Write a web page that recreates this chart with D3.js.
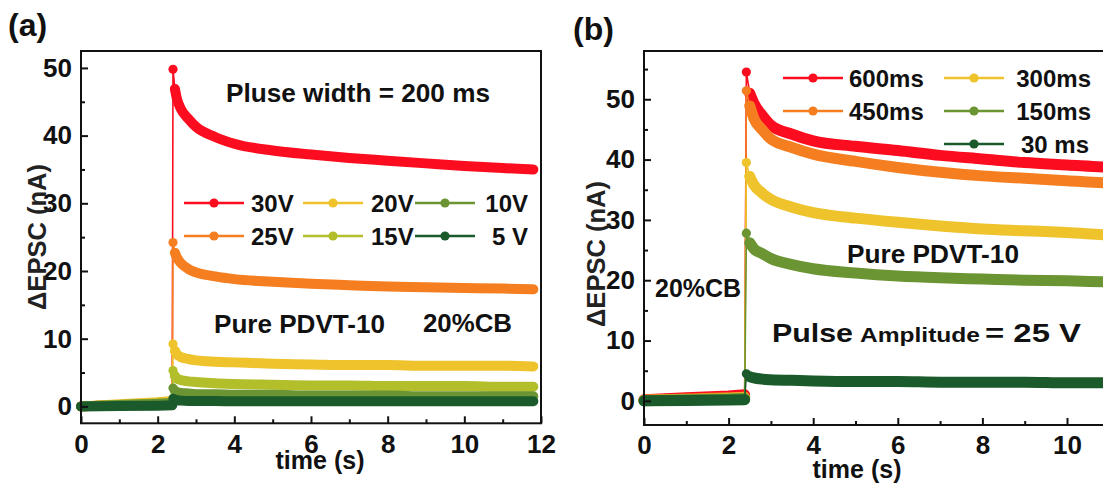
<!DOCTYPE html>
<html lang="en">
<head>
<meta charset="utf-8">
<title>EPSC pulses</title>
<script src="https://cdnjs.cloudflare.com/ajax/libs/d3/7.8.5/d3.min.js"></script>
<style>
  body { margin: 0; background: #fff; }
  text { font-family: "Liberation Sans", Arial, sans-serif; }
</style>
</head>
<body>
<script>
// ---- panel (a): amplitude series, pulse width 200 ms ----
var timeA = [0, 1, 2, 2.38, 2.4, 2.45, 2.5, 2.6, 2.8, 3, 3.5, 4, 5, 6, 7, 8, 9, 10, 11, 11.8];
var a30V = [0, 0.2, 0.4, 0.5, 49.8, 46.9, 45.5, 44, 42.5, 41.3, 39.8, 38.8, 37.8, 37.2, 36.7, 36.3, 35.9, 35.5, 35.2, 35.0];
var a25V = [0, 0.2, 0.4, 0.5, 24.2, 22.7, 22, 21.2, 20.3, 19.8, 19.2, 18.8, 18.4, 18.1, 17.9, 17.7, 17.6, 17.5, 17.4, 17.3];
var a20V = [0, 0.3, 0.6, 0.8, 9.2, 8.2, 7.7, 7.3, 7.0, 6.8, 6.6, 6.5, 6.3, 6.2, 6.1, 6.1, 6.0, 6.0, 6.0, 5.9];
var a15V = [0, 0.2, 0.4, 0.5, 5.3, 4.5, 4.1, 3.9, 3.7, 3.6, 3.4, 3.3, 3.2, 3.1, 3.1, 3.0, 3.0, 3.0, 2.9, 2.9];
var a10V = [0, 0.2, 0.4, 0.5, 2.7, 2.3, 2.1, 2.0, 1.9, 1.8, 1.8, 1.7, 1.7, 1.6, 1.6, 1.6, 1.5, 1.5, 1.5, 1.5];
var a5V = [0, 0.05, 0.1, 0.15, 1.2, 1.0, 0.9, 0.85, 0.8, 0.8, 0.8, 0.75, 0.75, 0.75, 0.75, 0.75, 0.75, 0.75, 0.75, 0.75];
var labelsA = ["30V", "25V", "20V", "15V", "10V", "5 V"];

// ---- panel (b): pulse width series, amplitude 25 V ----
var timeB = [0, 1, 2, 2.38, 2.42, 2.5, 2.6, 2.8, 3, 3.5, 4, 5, 6, 7, 8, 9, 10, 11, 11.8];
var b600 = [0.2, 0.5, 0.8, 1.0, 54.5, 51, 49.3, 47.3, 45.7, 44.2, 43.1, 42.2, 41.5, 40.7, 40.1, 39.5, 39.1, 38.7, 38.5];
var b450 = [0.1, 0.3, 0.5, 0.6, 51.4, 48.9, 46.8, 44.9, 43.4, 42, 40.9, 39.7, 38.7, 37.9, 37.3, 36.9, 36.5, 36.1, 35.9];
var b300 = [0.1, 0.2, 0.4, 0.5, 39.5, 37.2, 35.8, 34.4, 33.4, 32.1, 31.2, 30.3, 29.6, 29.0, 28.5, 28.2, 27.9, 27.5, 27.3];
var b150 = [0, 0.2, 0.3, 0.4, 27.8, 26.2, 25.2, 24.4, 23.6, 22.6, 21.9, 21.2, 20.7, 20.4, 20.2, 20.0, 19.9, 19.7, 19.6];
var b30 = [0, 0.05, 0.15, 0.2, 4.5, 4.0, 3.8, 3.6, 3.5, 3.4, 3.3, 3.2, 3.2, 3.1, 3.1, 3.1, 3.0, 3.0, 3.0];
var labelsB = ["600ms", "450ms", "300ms", "150ms", "30 ms"];

var xTicks = [0, 2, 4, 6, 8, 10, 12];
var xMinor = [1, 3, 5, 7, 9, 11];
var yTicks = [0, 10, 20, 30, 40, 50];
var yMinorA = [5, 15, 25, 35, 45];
var yMinorB = [5, 15, 25, 35, 45, 55];

var colorsA = ["#fb0d1f", "#f47e20", "#eec32c", "#b2bf2b", "#6b9433", "#1b5a2b"];
var colorsB = ["#fb0d1f", "#f47e20", "#eec32c", "#6b9433", "#1b5a2b"];

var W = 1103, H = 485;
var svg = d3.select("body").append("svg")
    .attr("width", W)
    .attr("height", H);
svg.append("rect").attr("width", W).attr("height", H).attr("fill", "#fff");

var PEAK = 4; // index of the pulse maximum in each series

function drawPanel(opt) {
    var x = d3.scaleLinear().domain([0, 12]).range(opt.xr);
    var y = d3.scaleLinear().domain(opt.yd).range(opt.yr);
    var g = svg.append("g");
    var onScreen = function(t) { return x(t) < W - 10; };

    // series, first one at the bottom
    opt.series.forEach(function(vals, k) {
        var pts = opt.time.map(function(t, i) { return [t, vals[i]]; });
        var col = opt.colors[k];
        var line = d3.line().x(function(d) { return x(d[0]); }).y(function(d) { return y(d[1]); });
        var smooth = d3.line().curve(d3.curveMonotoneX)
            .x(function(d) { return x(d[0]); }).y(function(d) { return y(d[1]); });

        // thin jump at the pulse
        g.append("path").attr("d", line(pts.slice(PEAK - 1, PEAK + 3)))
            .attr("fill", "none").attr("stroke", col).attr("stroke-width", 1.6);
        // thick baseline before the pulse
        g.append("path").attr("d", line(pts.slice(0, PEAK)))
            .attr("fill", "none").attr("stroke", col).attr("stroke-width", opt.band)
            .attr("stroke-linecap", "round");
        // thick decay after the pulse
        g.append("path").attr("d", smooth(pts.slice(PEAK + 1)))
            .attr("fill", "none").attr("stroke", col).attr("stroke-width", opt.band)
            .attr("stroke-linecap", "round").attr("stroke-linejoin", "round");
        g.selectAll(null).data(pts.slice(PEAK, PEAK + 2)).enter().append("circle")
            .attr("cx", function(d) { return x(d[0]); })
            .attr("cy", function(d) { return y(d[1]); })
            .attr("r", 4.6).attr("fill", col);
    });

    // frame
    g.append("rect")
        .attr("x", opt.xr[0]).attr("y", opt.yr[1])
        .attr("width", opt.xr[1] - opt.xr[0]).attr("height", opt.yr[0] - opt.yr[1])
        .attr("fill", "none").attr("stroke", "#111").attr("stroke-width", 2);

    // axes, ticks pointing inward
    g.append("g").attr("transform", "translate(0," + opt.yr[0] + ")")
        .call(d3.axisBottom(x).tickValues(xTicks.filter(onScreen)).tickSize(-7).tickPadding(11).tickFormat(d3.format("d")));
    g.append("g").attr("transform", "translate(0," + opt.yr[0] + ")")
        .call(d3.axisBottom(x).tickValues(xMinor.filter(onScreen)).tickSize(-4).tickFormat(""));
    g.append("g").attr("transform", "translate(" + opt.xr[0] + ",0)")
        .call(d3.axisLeft(y).tickValues(yTicks).tickSize(-7).tickPadding(9).tickFormat(d3.format("d")));
    g.append("g").attr("transform", "translate(" + opt.xr[0] + ",0)")
        .call(d3.axisLeft(y).tickValues(opt.yMinor).tickSize(-4).tickFormat(""));
    g.selectAll(".domain").remove();
    g.selectAll(".tick line").attr("stroke", "#111").attr("stroke-width", 2);
    g.selectAll(".tick text").attr("font-size", 26).attr("font-weight", "bold")
        .attr("fill", "#111").style("font-family", "'Liberation Sans', Arial, sans-serif");

    // axis titles
    g.append("text").attr("x", opt.xTitle[0]).attr("y", opt.xTitle[1])
        .attr("text-anchor", "middle").attr("font-size", 25).attr("font-weight", "bold")
        .attr("fill", "#111").text("time (s)");
    g.append("text")
        .attr("transform", "translate(" + opt.yTitle[0] + "," + opt.yTitle[1] + ") rotate(-90)")
        .attr("text-anchor", "middle").attr("dy", "0.36em").attr("font-size", 25)
        .attr("font-weight", "bold").attr("textLength", 146).attr("lengthAdjust", "spacingAndGlyphs")
        .attr("fill", "#222").text("\u0394EPSC (nA)");

    // panel letter
    g.append("text").attr("x", opt.letter[0]).attr("y", opt.letter[1])
        .attr("font-size", 32).attr("font-weight", "bold").attr("fill", "#111").text(opt.letterText);

    // legend
    opt.legend.forEach(function(L, k) {
        var col = opt.colors[k];
        var lg = g.append("g");
        lg.append("line").attr("x1", L.x).attr("x2", L.x + 60).attr("y1", L.y).attr("y2", L.y)
            .attr("stroke", col).attr("stroke-width", 2.5);
        lg.append("circle").attr("cx", L.x + 30).attr("cy", L.y).attr("r", 4.6).attr("fill", col);
        lg.append("text").attr("x", L.tx).attr("y", L.y).attr("dy", "0.36em")
            .attr("text-anchor", L.anchor).attr("font-size", 24).attr("font-weight", "bold")
            .attr("fill", "#111").text(opt.labels[k]);
    });

    return g;
}

var gA = drawPanel({
    time: timeA, series: [a30V, a25V, a20V, a15V, a10V, a5V], colors: colorsA, labels: labelsA,
    xr: [81, 541], yr: [423.3, 51], yd: [-2.5, 52.5], band: 10,
    yMinor: yMinorA,
    xTitle: [320, 469], yTitle: [37, 237], letter: [8, 36], letterText: "(a)",
    legend: [
        { x: 184, y: 203, tx: 251, anchor: "start" },
        { x: 184, y: 236, tx: 251, anchor: "start" },
        { x: 303, y: 203, tx: 371, anchor: "start" },
        { x: 303, y: 236, tx: 371, anchor: "start" },
        { x: 415, y: 203, tx: 528, anchor: "end" },
        { x: 415, y: 236, tx: 528, anchor: "end" }
    ]
});

var gB = drawPanel({
    time: timeB, series: [b600, b450, b300, b150, b30], colors: colorsB, labels: labelsB,
    xr: [644, 1151.6], yr: [425, 51], yd: [-4, 58], band: 11,
    yMinor: yMinorB,
    xTitle: [857, 478], yTitle: [596, 254], letter: [573, 40], letterText: "(b)",
    legend: [
        { x: 783, y: 78, tx: 849, anchor: "start" },
        { x: 783, y: 111, tx: 849, anchor: "start" },
        { x: 944, y: 78, tx: 1091, anchor: "end" },
        { x: 944, y: 111, tx: 1091, anchor: "end" },
        { x: 944, y: 144, tx: 1089, anchor: "end" }
    ]
});

// annotations
function note(g, x, y, size, str, len) {
    var t = g.append("text").attr("x", x).attr("y", y).attr("font-size", size)
        .attr("font-weight", "bold").attr("fill", "#111").text(str);
    if (len) t.attr("textLength", len).attr("lengthAdjust", "spacingAndGlyphs");
    return t;
}
note(gA, 226, 102, 25, "Pluse width = 200 ms", 264);
note(gA, 214, 333, 25, "Pure PDVT-10", 171);
note(gA, 423, 332, 25, "20%CB", 89);
note(gB, 847, 263, 25, "Pure PDVT-10", 172);
note(gB, 655, 297, 25, "20%CB", 86);
note(gB, 772, 342, 26, "Pulse", 81);
note(gB, 860, 342, 21, "Amplitude", 120);
note(gB, 985, 342, 26, "= 25 V", 96);
</script>
</body>
</html>
